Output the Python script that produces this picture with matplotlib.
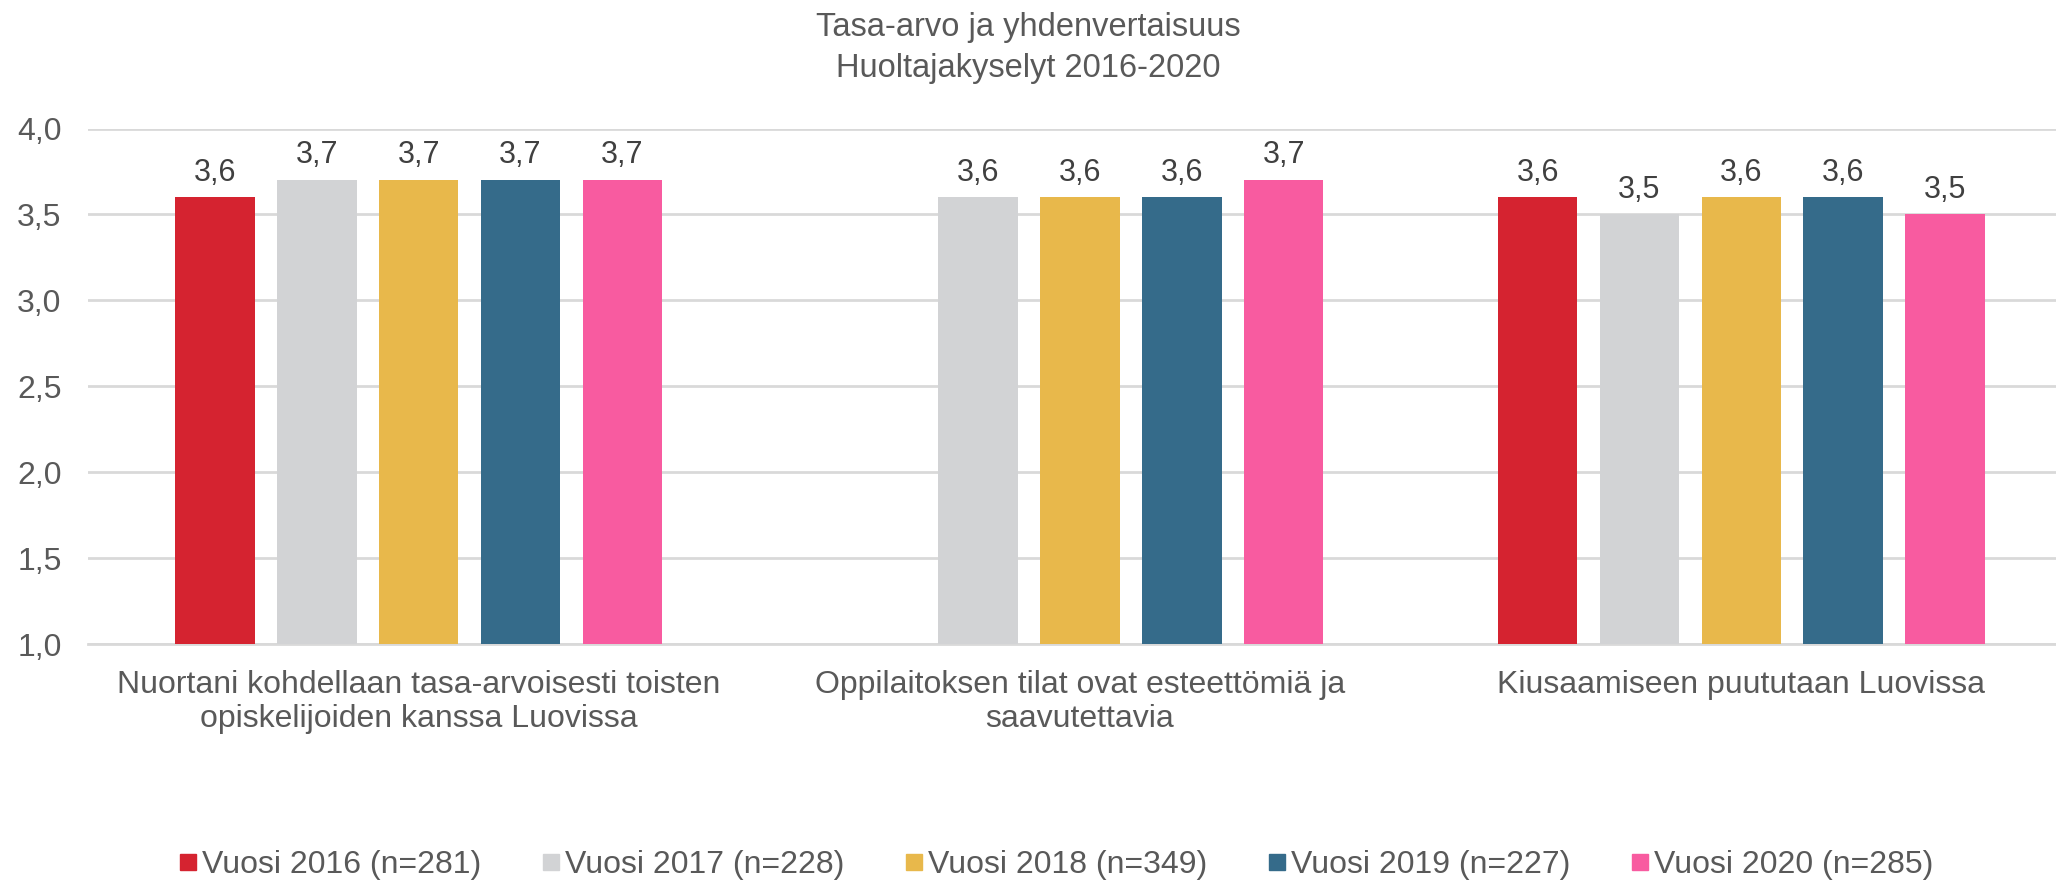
import numpy as np
import matplotlib
matplotlib.use("Agg")
import matplotlib.pyplot as plt
from matplotlib.lines import Line2D
from matplotlib.ticker import FuncFormatter

plt.rcParams['font.family'] = ['Liberation Sans', 'DejaVu Sans']

# data
categories = ["Nuortani kohdellaan tasa-arvoisesti toisten\nopiskelijoiden kanssa Luovissa",
              "Oppilaitoksen tilat ovat esteettömiä ja\nsaavutettavia",
              "Kiusaamiseen puututaan Luovissa"]
series_labels = ["Vuosi 2016 (n=281)", "Vuosi 2017 (n=228)", "Vuosi 2018 (n=349)",
                 "Vuosi 2019 (n=227)", "Vuosi 2020 (n=285)"]
v2016 = [3.6, None, 3.6]
v2017 = [3.7, 3.6, 3.5]
v2018 = [3.7, 3.6, 3.6]
v2019 = [3.7, 3.6, 3.6]
v2020 = [3.7, 3.7, 3.5]
values = [v2016, v2017, v2018, v2019, v2020]
colors = ["#D52330", "#D2D3D5", "#E8B84B", "#356B8A", "#F85BA0"]

title = "Tasa-arvo ja yhdenvertaisuus\nHuoltajakyselyt 2016-2020"

W, H = 2056, 881
fig = plt.figure(figsize=(W / 100, H / 100), dpi=100)
ax = fig.add_axes([88 / W, 1 - 644 / H, 1984 / W, (644 - 128.5) / H])

step = 0.154
width = 0.12
x = np.arange(len(categories))
for i, (vals, col, lab) in enumerate(zip(values, colors, series_labels)):
    xs = x + (i - 2) * step
    for xi, v in zip(xs, vals):
        if v is None:
            continue
        ax.bar(xi, v - 1.0, bottom=1.0, width=width, color=col, zorder=3)
        ax.annotate(f"{v:.1f}".replace(".", ","), (xi, v), xytext=(0, 7),
                    textcoords="offset points", ha="center", va="bottom",
                    fontsize=22, color="#404040")

ax.set_xlim(-0.5, 2.5)
ax.set_ylim(1.0, 4.0)
ax.set_yticks(np.arange(1.0, 4.01, 0.5))
ax.yaxis.set_major_formatter(FuncFormatter(lambda v, p: f"{v:.1f}".replace(".", ",")))
ax.yaxis.grid(True, color="#D9D9D9", linewidth=2, zorder=0)
ax.set_xticks(x)
ax.set_xticklabels(categories, fontsize=23, color="#595959", linespacing=1.17)
for s in ["top", "right", "left"]:
    ax.spines[s].set_visible(False)
ax.spines["bottom"].set_color("#D9D9D9")
ax.spines["bottom"].set_linewidth(2)
ax.tick_params(axis="both", length=0, labelcolor="#595959")
ax.tick_params(axis="y", labelsize=23, pad=19)
ax.tick_params(axis="x", labelsize=23, pad=19)

fig.text(0.5, 1 - 48 / H, title, ha="center", va="center", fontsize=23.5,
         color="#595959", linespacing=1.42)

handles = [Line2D([], [], marker="s", linestyle="", markersize=11,
                  markerfacecolor=c, markeredgecolor=c) for c in colors]
fig.legend(handles, series_labels, loc="center", bbox_to_anchor=(0.5135, 1 - 865 / H),
           ncol=5, frameon=False, fontsize=23, labelcolor="#595959",
           handlelength=0.6, handletextpad=0.15, columnspacing=1.87)

fig.savefig("out.png", dpi=100)
